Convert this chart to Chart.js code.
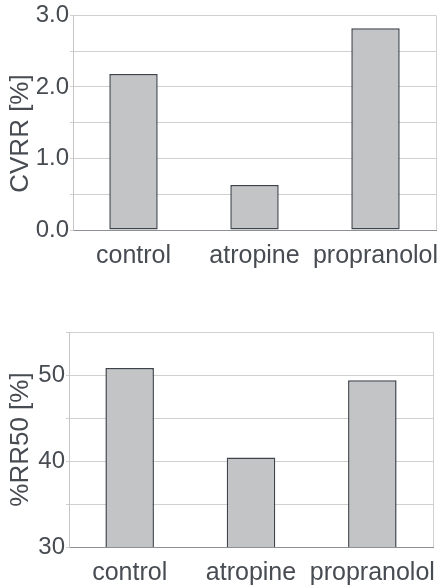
<!DOCTYPE html>
<html>
<head>
<meta charset="utf-8">
<script src="https://cdn.jsdelivr.net/npm/chart.js@4"></script>
<style>
  html, body { margin: 0; padding: 0; background: #ffffff; }
  body { width: 440px; height: 586px; position: relative; overflow: hidden; }
  .box { position: absolute; left: 0; width: 440px; }
  #b1 { top: 0; height: 275px; }
  #b2 { top: 280px; height: 306px; }
</style>
</head>
<body>
<div class="box" id="b1"><canvas id="c1"></canvas></div>
<div class="box" id="b2"><canvas id="c2"></canvas></div>
<script>
const categories = ["control", "atropine", "propranolol"];
const cvrrValues = [2.18, 0.63, 2.82];
const rr50Values = [50.8, 40.4, 49.4];
const cvrrTitle = "CVRR [%]   ";
const rr50Title = "%RR50 [%]";

const textColor = "#474c52";
const fontFamily = "'Liberation Sans', Arial, sans-serif";

function makeChart(id, values, yTitle, yMin, yMax, step, labelFn, yWidth, padTop, padRight, xHeight, xTickLen) {
  return new Chart(document.getElementById(id), {
    type: "bar",
    data: {
      labels: categories,
      datasets: [{
        data: values,
        backgroundColor: "#c3c4c6",
        borderColor: "#3d434b",
        borderWidth: 1.5,
        borderSkipped: false,
        barPercentage: 0.4,
        categoryPercentage: 1.0
      }]
    },
    options: {
      responsive: true,
      maintainAspectRatio: false,
      animation: false,
      layout: { padding: { top: padTop, right: padRight, left: 0, bottom: 0 } },
      plugins: { legend: { display: false }, tooltip: { enabled: false } },
      scales: {
        x: {
          grid: { display: true, drawOnChartArea: false, drawTicks: true, tickLength: xTickLen, tickColor: "rgba(0,0,0,0)" },
          border: { display: true, color: "#8e9095", width: 1 },
          ticks: { color: textColor, font: { family: fontFamily, size: 25 }, padding: 0, maxRotation: 0, autoSkip: false },
          afterFit: (s) => { s.height = xHeight; }
        },
        y: {
          min: yMin, max: yMax,
          grid: { color: "#cfd0d2", lineWidth: 1, drawTicks: true, tickLength: 3 },
          border: { display: true, color: "#c4c5c8", width: 1 },
          ticks: {
            stepSize: step,
            color: textColor,
            font: { family: fontFamily, size: 24 },
            padding: 1,
            callback: labelFn
          },
          title: {
            display: true,
            text: yTitle,
            color: textColor,
            font: { family: fontFamily, size: 26 },
            padding: { top: 5, bottom: 0 }
          },
          afterFit: (s) => { s.width = yWidth; }
        }
      }
    },
    plugins: [{
      id: "topRightBorder",
      afterDraw(chart) {
        const a = chart.chartArea, ctx = chart.ctx;
        ctx.save();
        ctx.strokeStyle = "#cfd0d2";
        ctx.lineWidth = 1;
        ctx.beginPath();
        ctx.moveTo(Math.round(a.right) + 0.5, a.top);
        ctx.lineTo(Math.round(a.right) + 0.5, a.bottom);
        ctx.stroke();
        ctx.restore();
      }
    }]
  });
}

makeChart("c1", cvrrValues, cvrrTitle, 0, 3, 0.5,
  (v) => Number.isInteger(v) ? v.toFixed(1) : "", 73, 15, 4, 45, 11);
makeChart("c2", rr50Values, rr50Title, 30, 55, 5,
  (v) => (v % 10 === 0) ? String(v) : "", 69, 52, 7, 39, 11);
</script>
</body>
</html>
